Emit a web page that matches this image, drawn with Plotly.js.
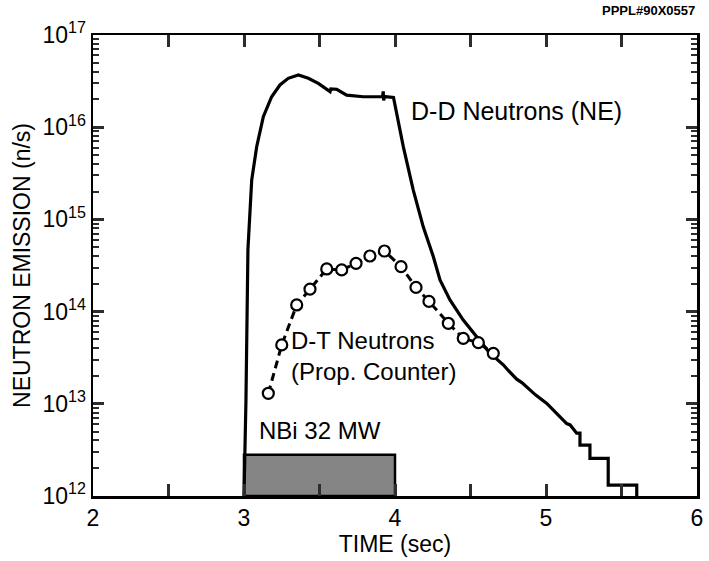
<!DOCTYPE html>
<html>
<head>
<meta charset="utf-8">
<script src="https://cdn.plot.ly/plotly-3.0.1.min.js"></script>
<style>html,body{margin:0;padding:0;background:#fff;}#chart{width:709px;height:561px;}</style>
</head>
<body>
<div id="chart"></div>
<script>
// D-D neutrons (NE) - time (s) and emission (n/s)
const ddTime = [3.000, 3.013, 3.026, 3.033, 3.051, 3.084, 3.128, 3.183, 3.238, 3.293, 3.360, 3.426, 3.492, 3.570, 3.575, 3.614, 3.680, 3.790, 3.900, 3.918, 3.922, 3.925, 3.930, 3.978, 3.990, 4.055, 4.121, 4.187, 4.254, 4.298, 4.364, 4.452, 4.541, 4.629, 4.660, 4.717, 4.750, 4.806, 4.840, 4.894, 4.930, 5.005, 5.040, 5.093, 5.137, 5.160, 5.203, 5.225, 5.225, 5.291, 5.291, 5.412, 5.412, 5.601, 5.601];
const ddFlux = [1e12, 1.1e13, 4.7e14, 7.7e14, 2.67e15, 6.15e15, 1.30e16, 2.14e16, 2.87e16, 3.39e16, 3.68e16, 3.39e16, 2.99e16, 2.43e16, 2.6e16, 2.58e16, 2.23e16, 2.14e16, 2.14e16, 2.15e16, 2.45e16, 1.95e16, 2.15e16, 2.14e16, 2.1e16, 6.15e15, 2.08e15, 8.3e14, 3.94e14, 2.20e14, 1.34e14, 8.1e13, 5.35e13, 3.53e13, 3.2e13, 2.65e13, 2.3e13, 1.85e13, 1.7e13, 1.41e13, 1.25e13, 1.01e13, 8.8e12, 7.2e12, 6.1e12, 5.9e12, 4.8e12, 4.8e12, 3.57e12, 3.57e12, 2.56e12, 2.56e12, 1.31e12, 1.31e12, 1e12];

// D-T neutrons (proportional counter)
const dtTime = [3.161, 3.250, 3.349, 3.437, 3.548, 3.647, 3.742, 3.834, 3.930, 4.040, 4.139, 4.225, 4.353, 4.452, 4.552, 4.651];
const dtFlux = [1.30e13, 4.35e13, 1.18e14, 1.75e14, 2.90e14, 2.83e14, 3.34e14, 4.01e14, 4.54e14, 3.07e14, 1.83e14, 1.29e14, 7.47e13, 5.13e13, 4.60e13, 3.53e13];

// NBI pulse
const nbiStart = 3.0, nbiEnd = 4.0, nbiLevel = 2.8e12;

// Axis ticks
const xTickVals = [2, 2.5, 3, 3.5, 4, 4.5, 5, 5.5, 6];
const xTickText = ['2', '', '3', '', '4', '', '5', '', '6'];
const yExponents = [12, 13, 14, 15, 16, 17];
const minorDigits = [2, 3, 4, 5, 6, 7, 8, 9];

const yTickVals = yExponents.map(e => Math.pow(10, e));
const yTickText = yExponents.map(e => '10<sup>' + e + '</sup>');
const yMinorVals = [];
yExponents.slice(0, -1).forEach(e => minorDigits.forEach(m => yMinorVals.push(m * Math.pow(10, e))));

const FONT = 'Liberation Sans, Arial, sans-serif';
const TICK = 'rgb(45,45,45)';

const traces = [
  {
    x: ddTime, y: ddFlux, type: 'scatter', mode: 'lines',
    line: {color: '#000', width: 3.2}, hoverinfo: 'skip'
  },
  {
    x: dtTime, y: dtFlux, type: 'scatter', mode: 'lines+markers',
    line: {color: '#000', width: 3, dash: '8px,5px'},
    marker: {symbol: 'circle', size: 11, color: '#fff', line: {color: '#000', width: 2.2}},
    hoverinfo: 'skip'
  },
  {
    // carrier for the minor-tick overlay axis (draws nothing)
    x: dtTime, y: dtFlux, yaxis: 'y2', type: 'scatter', mode: 'none', hoverinfo: 'skip'
  }
];

const layout = {
  width: 709, height: 561,
  margin: {l: 93, r: 12, t: 35, b: 65},
  paper_bgcolor: '#fff', plot_bgcolor: 'rgba(0,0,0,0)',
  showlegend: false,
  font: {family: FONT, color: '#000'},
  xaxis: {
    range: [2, 6], tickmode: 'array', tickvals: xTickVals, ticktext: xTickText,
    ticks: 'inside', ticklen: 12, tickwidth: 3, tickcolor: TICK,
    showline: true, linewidth: 2.5, linecolor: '#000', mirror: 'ticks',
    showgrid: false, zeroline: false,
    tickfont: {size: 23, family: FONT},
    title: {text: 'TIME (sec)', font: {size: 23, family: FONT}, standoff: 4}
  },
  yaxis: {
    type: 'log', range: [12, 17], tickmode: 'array', tickvals: yTickVals, ticktext: yTickText,
    ticks: 'inside', ticklen: 11, tickwidth: 3, tickcolor: TICK,
    showline: true, linewidth: 2.5, linecolor: '#000', mirror: 'ticks',
    showgrid: false, zeroline: false,
    tickfont: {size: 23, family: FONT},
    title: {text: 'NEUTRON EMISSION (n/s)', font: {size: 23, family: FONT}, standoff: 6}
  },
  yaxis2: {
    type: 'log', range: [12, 17], overlaying: 'y', side: 'left', anchor: 'x',
    tickmode: 'array', tickvals: yMinorVals, showticklabels: false,
    ticks: 'inside', ticklen: 6, tickwidth: 2, tickcolor: TICK,
    showline: false, mirror: 'ticks', showgrid: false, zeroline: false
  },
  shapes: [
    {type: 'rect', xref: 'x', yref: 'y', x0: nbiStart, x1: nbiEnd, y0: 1e12, y1: nbiLevel,
     fillcolor: '#858585', line: {color: '#000', width: 2.5}, layer: 'below'}
  ],
  annotations: [
    {text: 'D-D Neutrons (NE)', x: 4.09, y: Math.log10(1.5e16), xref: 'x', yref: 'y', xanchor: 'left', yanchor: 'middle', showarrow: false, font: {size: 25, family: FONT}},
    {text: 'D-T Neutrons<br>(Prop. Counter)', x: 3.3, y: Math.log10(3.3e13), xref: 'x', yref: 'y', xanchor: 'left', yanchor: 'middle', align: 'left', showarrow: false, font: {size: 24, family: FONT}},
    {text: 'NBi 32 MW', x: 3.5, y: Math.log10(3.5e12), xref: 'x', yref: 'y', xanchor: 'center', yanchor: 'bottom', showarrow: false, font: {size: 24, family: FONT}},
    {text: '<b>PPPL#90X0557</b>', x: 1, y: 1.054, xref: 'paper', yref: 'paper', xanchor: 'right', yanchor: 'middle', showarrow: false, font: {size: 13, family: FONT}}
  ]
};

Plotly.newPlot('chart', traces, layout, {staticPlot: true, displayModeBar: false});
</script>
</body>
</html>
